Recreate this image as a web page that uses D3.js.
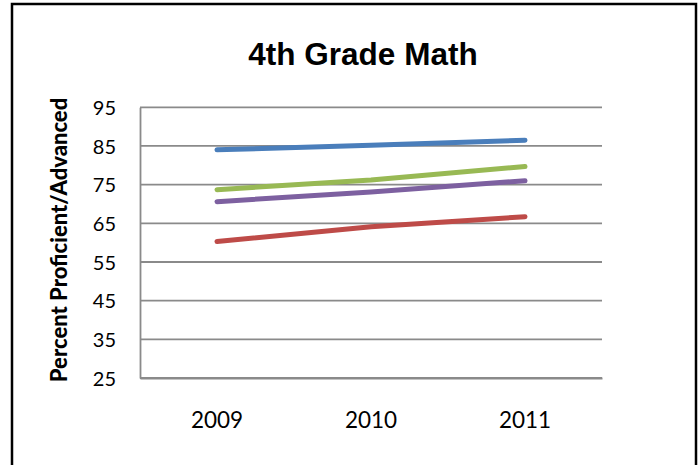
<!DOCTYPE html>
<html>
<head>
<meta charset="utf-8">
<script src="https://cdn.jsdelivr.net/npm/d3@7"></script>
<style>
  html, body { margin: 0; padding: 0; background: #fff; }
  svg { display: block; }
</style>
</head>
<body>
<svg id="chart" width="699" height="465"></svg>
<script>
// Chart data
const categories = ["2009", "2010", "2011"];
const yTicks = [25, 35, 45, 55, 65, 75, 85, 95];
const seriesNames = ["Series 1", "Series 2", "Series 3", "Series 4"];
const series1 = [84.0, 85.2, 86.5];
const series2 = [60.3, 64.1, 66.7];
const series3 = [73.7, 76.2, 79.7];
const series4 = [70.6, 73.1, 76.0];
const seriesColors = ["#4A7EBB", "#BE4B48", "#98B954", "#7D60A0"];
const titleText = "4th Grade Math";
const yTitleText = "Percent Proficient/Advanced";

const allSeries = [series1, series2, series3, series4].map((values, i) => ({
  name: seriesNames[i],
  color: seriesColors[i],
  values: values.map((v, j) => ({ cat: categories[j], value: v }))
}));

const svg = d3.select("#chart");

// Outer chart frame
svg.append("rect")
  .attr("x", 12).attr("y", 4)
  .attr("width", 684).attr("height", 480)
  .attr("fill", "#fff")
  .attr("stroke", "#000")
  .attr("stroke-width", 2.5);

const plot = { left: 140, right: 602, top: 107.3, bottom: 378 };

const x = d3.scaleBand().domain(categories).range([plot.left, plot.right]);
const y = d3.scaleLinear().domain([25, 95]).range([plot.bottom, plot.top]);

// Horizontal gridlines
svg.append("g")
  .selectAll("line")
  .data(yTicks)
  .join("line")
  .attr("x1", plot.left).attr("x2", plot.right)
  .attr("y1", d => y(d)).attr("y2", d => y(d))
  .attr("stroke", "#8a8a8a")
  .attr("stroke-width", 1.8);

// Y axis
const yAxis = svg.append("g")
  .attr("transform", `translate(${plot.left},0)`)
  .call(d3.axisLeft(y).tickValues(yTicks).tickSize(0).tickPadding(24));
yAxis.select(".domain").attr("stroke", "#8a8a8a").attr("stroke-width", 1.8);
yAxis.selectAll("text")
  .attr("font-family", "Lato, 'Open Sans', sans-serif")
  .attr("font-size", 20)
  .attr("fill", "#000")
  .attr("dy", "0.36em");

// X axis
const xAxis = svg.append("g")
  .attr("transform", `translate(0,${plot.bottom})`)
  .call(d3.axisBottom(x).tickSize(0).tickPadding(34));
xAxis.select(".domain").attr("stroke", "#8a8a8a").attr("stroke-width", 1.8);
xAxis.selectAll("text")
  .attr("font-family", "Lato, 'Open Sans', sans-serif")
  .attr("font-size", 22.5)
  .attr("fill", "#000");

// Series lines
const line = d3.line()
  .x(d => x(d.cat) + x.bandwidth() / 2)
  .y(d => y(d.value));

svg.append("g")
  .selectAll("path")
  .data(allSeries)
  .join("path")
  .attr("d", d => line(d.values))
  .attr("fill", "none")
  .attr("stroke", d => d.color)
  .attr("stroke-width", 5)
  .attr("stroke-linecap", "round")
  .attr("stroke-linejoin", "round");

// Title
svg.append("text")
  .attr("x", 363).attr("y", 65)
  .attr("text-anchor", "middle")
  .attr("font-family", "'Liberation Sans', Arial, sans-serif")
  .attr("font-weight", "bold")
  .attr("font-size", 31.5)
  .attr("fill", "#000")
  .text(titleText);

// Y axis title
svg.append("text")
  .attr("transform", "translate(67,240) rotate(-90)")
  .attr("text-anchor", "middle")
  .attr("font-family", "Lato, 'Open Sans', sans-serif")
  .attr("font-weight", "900")
  .attr("font-size", 22)
  .attr("fill", "#000")
  .text(yTitleText);
</script>
</body>
</html>
